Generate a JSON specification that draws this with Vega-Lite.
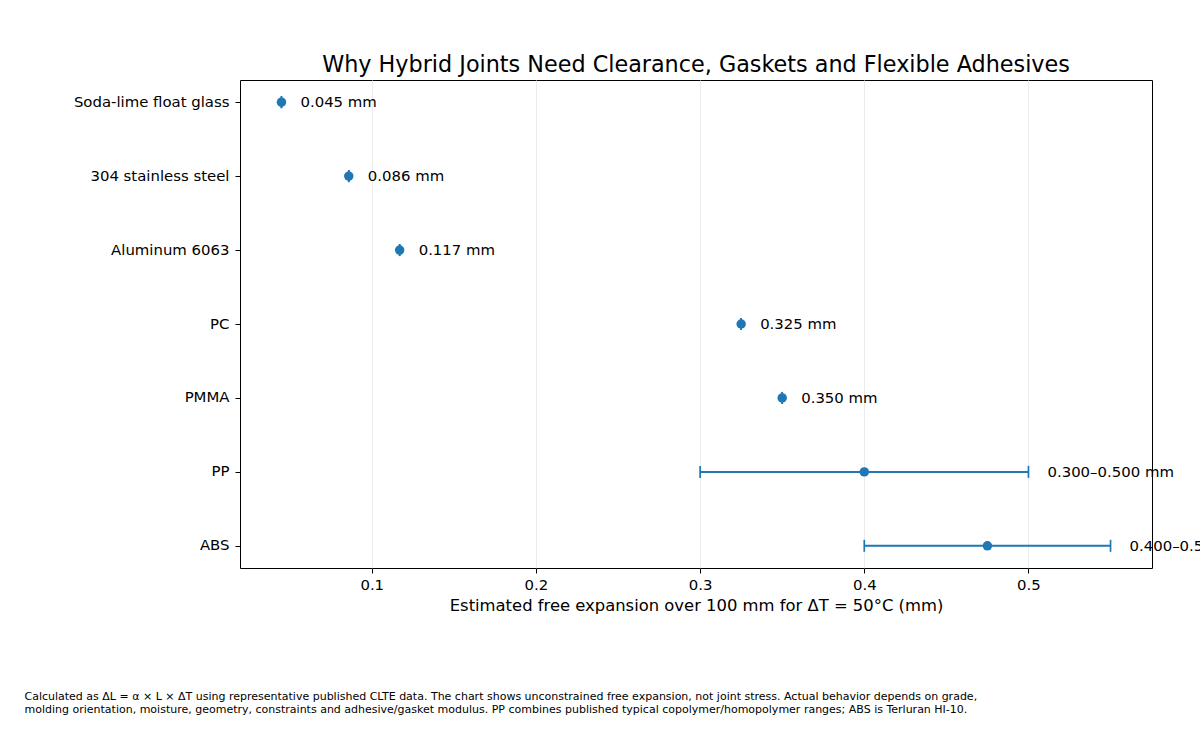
{
  "$schema": "https://vega.github.io/schema/vega-lite/v6.json",
  "autosize": {"type": "none"},
  "width": 912,
  "height": 488,
  "padding": {"left": 240, "top": 80, "right": 48, "bottom": 161},
  "background": "white",
  "title": {
    "text": "Why Hybrid Joints Need Clearance, Gaskets and Flexible Adhesives",
    "fontSize": 22.3,
    "fontWeight": "normal",
    "font": "DejaVu Sans",
    "color": "black",
    "anchor": "middle",
    "offset": 4
  },
  "config": {
    "font": "DejaVu Sans",
    "view": {"stroke": "black", "strokeWidth": 1},
    "axis": {
      "domain": false,
      "tickColor": "black",
      "tickSize": 5,
      "labelColor": "black",
      "labelFont": "DejaVu Sans",
      "titleFont": "DejaVu Sans",
      "titleColor": "black",
      "titleFontWeight": "normal"
    }
  },
  "data": {
    "values": [
      {"material": "Soda-lime float glass", "value": 0.045, "lo": 0.045, "hi": 0.045, "label": "0.045 mm"},
      {"material": "304 stainless steel", "value": 0.086, "lo": 0.086, "hi": 0.086, "label": "0.086 mm"},
      {"material": "Aluminum 6063", "value": 0.117, "lo": 0.117, "hi": 0.117, "label": "0.117 mm"},
      {"material": "PC", "value": 0.325, "lo": 0.325, "hi": 0.325, "label": "0.325 mm"},
      {"material": "PMMA", "value": 0.35, "lo": 0.35, "hi": 0.35, "label": "0.350 mm"},
      {"material": "PP", "value": 0.4, "lo": 0.3, "hi": 0.5, "label": "0.300–0.500 mm"},
      {"material": "ABS", "value": 0.475, "lo": 0.4, "hi": 0.55, "label": "0.400–0.550 mm"}
    ]
  },
  "encoding": {
    "y": {
      "field": "material",
      "type": "nominal",
      "sort": ["Soda-lime float glass", "304 stainless steel", "Aluminum 6063", "PC", "PMMA", "PP", "ABS"],
      "scale": {"type": "point", "padding": 0.3},
      "axis": {
        "labelFontSize": 14.9,
        "labelPadding": 6,
        "grid": false,
        "title": [
          "Calculated as ΔL = α × L × ΔT using representative published CLTE data. The chart shows unconstrained free expansion, not joint stress. Actual behavior depends on grade,",
          "molding orientation, moisture, geometry, constraints and adhesive/gasket modulus. PP combines published typical copolymer/homopolymer ranges; ABS is Terluran HI-10."
        ],
        "titleAngle": 0,
        "titleAlign": "left",
        "titleBaseline": "alphabetic",
        "titleX": -216,
        "titleY": 619,
        "titleFontSize": 11,
        "titleLineHeight": 13
      }
    }
  },
  "layer": [
    {
      "mark": {"type": "rule", "color": "#1f77b4", "strokeWidth": 2},
      "encoding": {
        "x": {
          "field": "lo",
          "type": "quantitative",
          "scale": {"domain": [0.01975, 0.57525], "nice": false, "zero": false},
          "axis": {
            "values": [0.1, 0.2, 0.3, 0.4, 0.5],
            "format": ".1f",
            "labelFontSize": 14.9,
            "labelPadding": 4,
            "grid": true,
            "gridColor": "#ebebeb",
            "gridWidth": 1,
            "title": "Estimated free expansion over 100 mm for ΔT = 50°C (mm)",
            "titleFontSize": 16.4,
            "titlePadding": 6
          }
        },
        "x2": {"field": "hi"}
      }
    },
    {
      "mark": {"type": "tick", "orient": "vertical", "color": "#1f77b4", "size": 12, "thickness": 1.7, "opacity": 1},
      "encoding": {"x": {"field": "lo", "type": "quantitative"}}
    },
    {
      "mark": {"type": "tick", "orient": "vertical", "color": "#1f77b4", "size": 12, "thickness": 1.7, "opacity": 1},
      "encoding": {"x": {"field": "hi", "type": "quantitative"}}
    },
    {
      "mark": {"type": "point", "filled": true, "color": "#1f77b4", "size": 90, "opacity": 1},
      "encoding": {"x": {"field": "value", "type": "quantitative"}}
    },
    {
      "mark": {"type": "text", "align": "left", "baseline": "middle", "dx": 19, "dy": 1, "fontSize": 14.9, "color": "black", "font": "DejaVu Sans"},
      "encoding": {
        "x": {"field": "hi", "type": "quantitative"},
        "text": {"field": "label"}
      }
    }
  ]
}
